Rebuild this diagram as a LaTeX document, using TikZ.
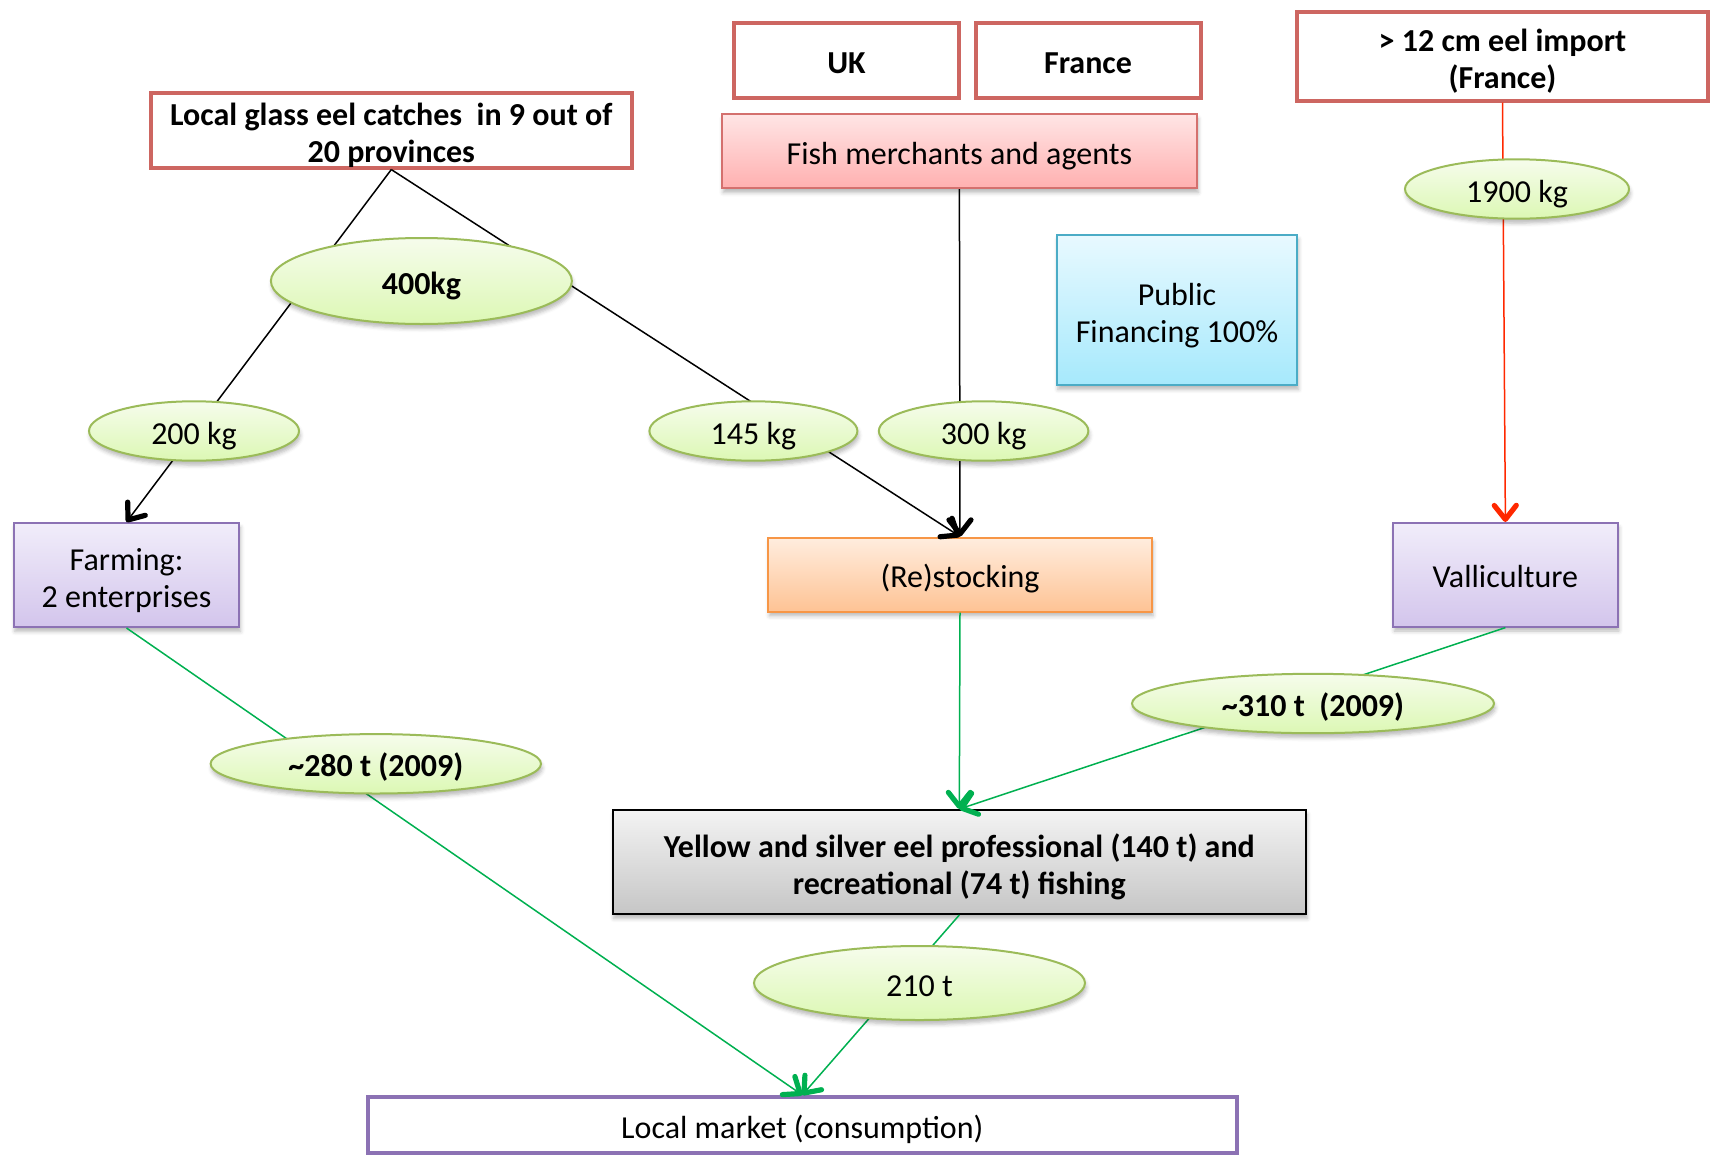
\documentclass[tikz,border=0pt]{standalone}
\usepackage{fontspec}
\setmainfont{Carlito}
\usetikzlibrary{shapes.geometric,arrows.meta,shadows.blur}

% palette
\definecolor{redb}{RGB}{205,102,97}
\definecolor{ellb}{RGB}{155,187,89}
\definecolor{ellt}{RGB}{246,252,236}
\definecolor{ellf}{RGB}{220,248,180}
\definecolor{pinkb}{RGB}{212,112,110}
\definecolor{pinkt}{RGB}{255,229,229}
\definecolor{pinkf}{RGB}{255,176,176}
\definecolor{cyanb}{RGB}{75,172,198}
\definecolor{cyant}{RGB}{232,249,255}
\definecolor{cyanf}{RGB}{166,233,252}
\definecolor{purb}{RGB}{140,114,180}
\definecolor{purt}{RGB}{241,237,250}
\definecolor{purf}{RGB}{211,197,236}
\definecolor{orab}{RGB}{247,150,70}
\definecolor{orat}{RGB}{255,237,222}
\definecolor{oraf}{RGB}{254,195,149}
\definecolor{greyt}{RGB}{243,243,243}
\definecolor{greyf}{RGB}{198,198,198}
\definecolor{flowgreen}{RGB}{0,176,80}
\definecolor{flowred}{RGB}{255,40,0}

% taller first line, lowering two-line labels inside their boxes
\newcommand{\topstrut}{\rule{0pt}{18pt}}

\tikzset{
  % fixed ascent/descent struts keep one-line labels at the same baseline offset
  base/.style={align=center, inner sep=0pt, font=\fontsize{16pt}{18.5pt}\selectfont,
      execute at begin node={\rule{0pt}{17pt}},
      execute at end node={\rule[-4pt]{0pt}{4pt}}},
  softshadow/.style={blur shadow={shadow xshift=0.6pt, shadow yshift=-2.2pt,
      shadow blur radius=2pt, shadow opacity=28}},
  redbox/.style={base, draw=redb, line width=2pt, fill=white,
      font=\fontsize{16pt}{18.5pt}\selectfont\bfseries},
  flowbox/.style={base, line width=1pt, softshadow},
  qty/.style={base, ellipse, draw=ellb, line width=1pt, top color=ellt,
      bottom color=ellf, softshadow},
  tip/.style={-{Straight Barb[length=7pt,width=11pt,line width=2.6pt,round]}},
  blackflow/.style={line width=0.75pt, black, tip},
  greenflow/.style={line width=0.75pt, flowgreen, tip},
  redflow/.style={line width=0.75pt, flowred, tip},
}

\begin{document}
\begin{tikzpicture}[x=0.5pt,y=-0.5pt]
\useasboundingbox (0,0) rectangle (1714,1157);

% source boxes
\node[redbox, inner ysep=-2pt, minimum width=240.75pt, minimum height=37.25pt] (local) at (391.3,130.3)
  {\topstrut Local glass eel catches\ \ in 9 out of\\20 provinces};
\node[redbox, minimum width=112.5pt, minimum height=37.5pt] (uk) at (846.5,60.5) {UK};
\node[redbox, minimum width=112.5pt, minimum height=37.5pt] (france) at (1088,60.5) {France};
\node[redbox, minimum width=205.5pt, minimum height=44.5pt] (import) at (1502.5,56)
  {\topstrut > 12 cm eel import\\(France)};

% actors and uses
\node[flowbox, draw=pinkb, top color=pinkt, bottom color=pinkf,
  minimum width=237.5pt, minimum height=37pt] (fish) at (959.4,151.2)
  {Fish merchants and agents};
\node[flowbox, draw=cyanb, top color=cyant, bottom color=cyanf,
  minimum width=120.25pt, minimum height=75pt] (public) at (1177,310)
  {\topstrut Public\\Financing 100\%};
\node[flowbox, draw=purb, top color=purt, bottom color=purf,
  minimum width=112.8pt, minimum height=52pt] (farm) at (126.5,575)
  {\topstrut Farming:\\2 enterprises};
\node[flowbox, draw=orab, top color=orat, bottom color=oraf,
  minimum width=191.8pt, minimum height=37pt] (restock) at (960,574.5)
  {(Re)stocking};
\node[flowbox, draw=purb, top color=purt, bottom color=purf,
  minimum width=112.3pt, minimum height=51.8pt] (valli) at (1505.4,574.8)
  {Valliculture};
\node[flowbox, draw=black, top color=greyt, bottom color=greyf,
  minimum width=346.7pt, minimum height=52pt,
  font=\fontsize{16pt}{18.5pt}\selectfont\bfseries] (fishing) at (959.3,862)
  {\topstrut Yellow and silver eel professional (140 t) and\\recreational (74 t) fishing};
\node[base, draw=purb, line width=2pt, fill=white,
  minimum width=434.2pt, minimum height=28pt] (market) at (802.3,1125)
  {Local market (consumption)};

% flows
\draw[blackflow] (local.south) -- (farm.north);
\draw[blackflow] (local.south) -- (restock.north);
\draw[blackflow] (fish.south) -- (restock.north);
\draw[redflow] (import.south) -- (valli.north);
\draw[greenflow] (restock.south) -- (fishing.north);
\draw[greenflow] (valli.south) -- (fishing.north);
\draw[greenflow] (farm.south) -- (market.north);
\draw[greenflow] (fishing.south) -- (market.north);

% quantities on the flows
\node[qty, minimum width=150.5pt, minimum height=43pt] (q400) at (421.4,281) {\textbf{400kg}};
\node[qty, minimum width=105pt, minimum height=29pt] (q200) at (194,431) {200 kg};
\node[qty, minimum width=104pt, minimum height=29pt] (q145) at (753.4,431) {145 kg};
\node[qty, minimum width=104.75pt, minimum height=29pt] (q300) at (983.6,431) {300 kg};
\node[qty, minimum width=112pt, minimum height=29pt] (q1900) at (1517,189) {1900 kg};
\node[qty, minimum width=181pt, minimum height=29.5pt] (q310) at (1313,703.5)
  {\textbf{\textasciitilde310 t\ \ (2009)}};
\node[qty, minimum width=165.2pt, minimum height=29.2pt] (q280) at (375.8,763.8)
  {\textbf{\textasciitilde280 t (2009)}};
\node[qty, minimum width=165.5pt, minimum height=37pt] (q210) at (919.5,983) {210 t};
\end{tikzpicture}
\end{document}
